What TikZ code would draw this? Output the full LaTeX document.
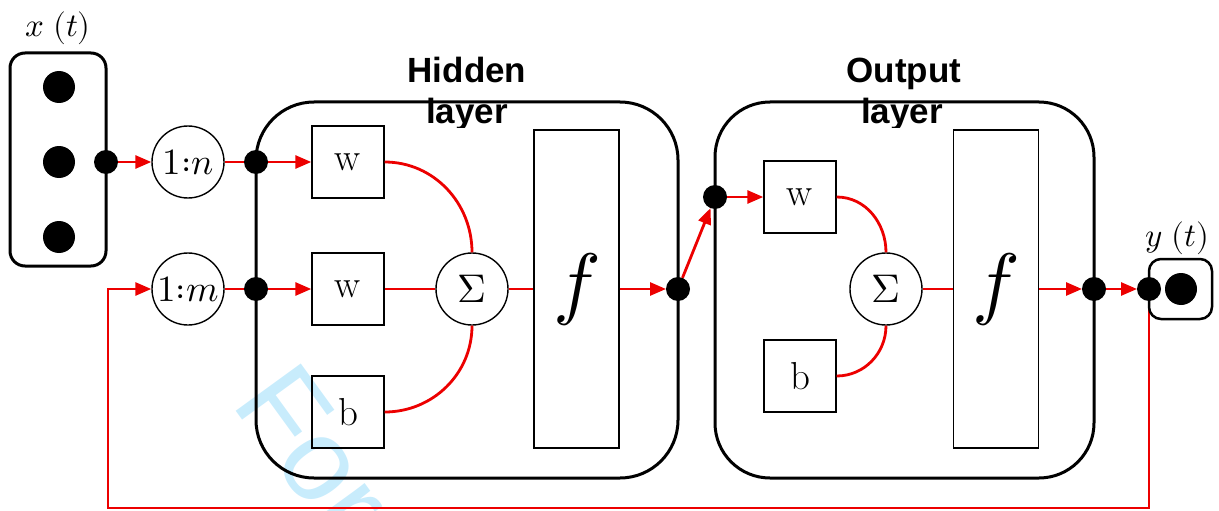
\documentclass[tikz,border=0pt]{standalone}
\usepackage{fontspec}
\usepackage{unicode-math}
\newfontfamily\headfont{Liberation Sans}
\usetikzlibrary{arrows.meta,backgrounds}
\definecolor{wire}{RGB}{236,0,0}
\definecolor{wmark}{RGB}{200,236,252}
\begin{document}
\begin{tikzpicture}[x=1pt,y=-1pt,
  layerframe/.style={draw=black,line width=3pt},
  wt/.style={draw=black,line width=1.4pt,minimum size=72pt,inner sep=0pt,font=\fontsize{39}{39}\selectfont},
  sumnode/.style={circle,draw=black,line width=1.4pt,fill=white,minimum size=72pt,inner sep=0pt,font=\fontsize{40}{40}\selectfont},
  actbox/.style={draw=black,line width=1.4pt,fill=white,minimum width=85pt,minimum height=318pt,inner sep=0pt,font=\fontsize{80}{80}\selectfont},
  ratenode/.style={circle,draw=black,line width=1.4pt,fill=white,minimum size=72pt,inner sep=0pt,font=\fontsize{37}{37}\selectfont},
  joint/.style={circle,fill=black,minimum size=24pt,inner sep=0pt,outer sep=0pt},
  sample/.style={circle,fill=black,minimum size=32pt,inner sep=0pt},
  redwire/.style={draw=wire,line width=2.8pt},
  feed/.style={redwire,-{Triangle[length=16pt,width=13pt]}},
  headline/.style={font=\headfont\bfseries\fontsize{35}{35}\selectfont,anchor=base,inner sep=0pt},
  siglabel/.style={font=\fontsize{33}{33}\selectfont,inner sep=0pt}
]
\useasboundingbox (0,0) rectangle (1219,511);
\clip (0,0) rectangle (1219,511);

% input vector x(t)
\node[layerframe,rounded corners=15pt,minimum width=96pt,minimum height=213pt] (xbox) at (58,159.5) {};
\node[sample] (x1) at (59,87) {};
\node[sample] (x2) at (59,162) {};
\node[sample] (x3) at (59,237) {};
\node[siglabel] (xlab) at (58,28) {$x\;(t)$};
\node[joint] (xo) at (106,162) {};

% tapped delay lines
\node[ratenode] (rn) at (188,162) {$1{:}n$};
\node[ratenode] (rm) at (188,289) {$1{:}m$};

% hidden layer
\node[layerframe,rounded corners=58pt,minimum width=422pt,minimum height=376pt] (hid) at (467,290) {};
\node[headline] (hidt1) at (467,82) {Hidden};
\begin{scope}
  \clip (380,60) rectangle (560,127);
  \node[headline] (hidt2) at (467,124) {layer};
\end{scope}
\node[joint] (hn) at (256,162) {};
\node[joint] (hm) at (256,289) {};
\node[wt] (w1) at (348,162) {w};
\node[wt] (w2) at (348,289) {w};
\node[wt] (b1) at (348,412) {b};
\node[sumnode] (s1) at (472,289) {$\Sigma$};
\node[actbox] (f1) at (576.5,289) {$f$};
\node[joint] (ho) at (678,289) {};

% output layer
\node[layerframe,rounded corners=55pt,minimum width=379pt,minimum height=376pt] (outl) at (904.5,290) {};
\node[headline] (outt1) at (904,82) {Output};
\begin{scope}
  \clip (820,60) rectangle (990,127);
  \node[headline] (outt2) at (902,124) {layer};
\end{scope}
\node[joint] (oi) at (715,197) {};
\node[wt] (w3) at (800,197) {w};
\node[wt] (b2) at (800,376) {b};
\node[sumnode] (s2) at (886,289) {$\Sigma$};
\node[actbox] (f2) at (996,289) {$f$};
\node[joint] (oo) at (1094,289) {};

% output sample y(t)
\node[layerframe,fill=white,rounded corners=12pt,line width=2.5pt,minimum width=63pt,minimum height=60pt] (ybox) at (1180.5,289) {};
\node[sample] (y1) at (1181,289) {};
\node[joint] (yi) at (1149,289) {};
\node[siglabel] (ylab) at (1177,238) {$y\;(t)$};

% signal flow
\draw[feed] (xo) -- (rn);
\draw[redwire] (rn) -- (hn);
\draw[redwire] (rm) -- (hm);
\draw[feed] (hn) -- (w1);
\draw[feed] (hm) -- (w2);
\draw[redwire] (w1.east) to[out=0,in=90] (s1.north);
\draw[redwire] (w2) -- (s1);
\draw[redwire] (b1.east) to[out=0,in=-90] (s1.south);
\draw[redwire] (s1) -- (f1);
\draw[feed] (f1) -- (ho);
\draw[feed] (ho) -- (oi);
\draw[feed] (oi) -- (w3);
\draw[redwire] (w3.east) to[out=0,in=90] (s2.north);
\draw[redwire] (b2.east) to[out=0,in=-90] (s2.south);
\draw[redwire] (s2) -- (f2);
\draw[feed] (f2) -- (oo);
\draw[feed] (oo) -- (yi);

% watermark and feedback loop underneath
\coordinate (fbr) at (1149,508);
\coordinate (fbl) at (108,508);
\begin{scope}[on background layer]
  \node[rotate=-54,anchor=base west,text=wmark,inner sep=0pt,font=\headfont\fontsize{117}{117}\selectfont] (wm) at (230,403) {For};
  \draw[feed] (yi) -- (fbr) -- (fbl) |- (rm);
\end{scope}
\end{tikzpicture}
\end{document}
